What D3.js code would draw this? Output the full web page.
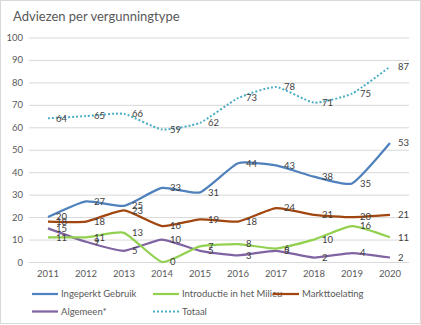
<!DOCTYPE html>
<html>
<head>
<meta charset="utf-8">
<script src="https://cdn.jsdelivr.net/npm/d3@7"></script>
<style>
  body { margin: 0; background: #fff; }
  svg { display: block; font-family: Lato, "Open Sans", sans-serif; }
  .axis path, .axis line { display: none; }
  .axis text { fill: #595959; font-size: 9.5px; font-family: Lato, sans-serif; }
  .gridline line { stroke: #d9d9d9; stroke-width: 1; }
  .gridline path { display: none; }
  .value-label { fill: #404040; font-size: 9.5px; }
  .legend-label { fill: #595959; font-size: 9.5px; }
</style>
</head>
<body>
<div id="chart"></div>
<script>
// data
const years = ['2011', '2012', '2013', '2014', '2015', '2016', '2017', '2018', '2019', '2020'];
const ingeperktGebruik = [20, 27, 25, 33, 31, 44, 43, 38, 35, 53];
const introductieMilieu = [11, 11, 13, 0, 7, 8, 6, 10, 16, 11];
const markttoelating = [18, 18, 23, 16, 19, 18, 24, 21, 20, 21];
const algemeen = [15, 9, 5, 10, 5, 3, 5, 2, 4, 2];
const totaal = [64, 65, 66, 59, 62, 73, 78, 71, 75, 87];
const yTicks = [0, 10, 20, 30, 40, 50, 60, 70, 80, 90, 100];

const series = [
    { name: 'Totaal', values: totaal, color: '#4bacc6', dotted: true },
    { name: 'Algemeen*', values: algemeen, color: '#8064a2' },
    { name: 'Markttoelating', values: markttoelating, color: '#a0460e' },
    { name: 'Introductie in het Milieu', values: introductieMilieu, color: '#92d050' },
    { name: 'Ingeperkt Gebruik', values: ingeperktGebruik, color: '#4f81bd' }
];

const width = 421, height = 325;
const margin = { top: 37.5, right: 12, bottom: 63, left: 29 };
const chartWidth = 409 - margin.left;
const chartHeight = height - margin.top - margin.bottom;

const svg = d3.select('#chart')
    .append('svg')
    .attr('width', width)
    .attr('height', height);

svg.append('rect')
    .attr('x', 0.5).attr('y', 0.5)
    .attr('width', width - 1).attr('height', height - 2)
    .attr('fill', '#fff')
    .attr('stroke', '#d9d9d9');

svg.append('text')
    .attr('x', 13)
    .attr('y', 21)
    .style('font-size', '13px')
    .style('fill', '#595959')
    .text('Adviezen per vergunningtype');

const chart = svg.append('g')
    .attr('transform', `translate(${margin.left},${margin.top})`);

const xScale = d3.scaleBand()
    .domain(years)
    .range([0, chartWidth]);
const yScale = d3.scaleLinear()
    .domain([0, 100])
    .range([chartHeight, 0]);

const yGridlines = d3.axisLeft()
    .scale(yScale)
    .tickValues(yTicks)
    .tickSize(-chartWidth)
    .tickFormat('');

chart.append('g')
    .classed('gridline', true)
    .call(yGridlines);

chart.append('g')
    .classed('y axis', true)
    .call(d3.axisLeft(yScale).tickValues(yTicks).tickSize(0).tickPadding(6));

chart.append('g')
    .classed('x axis', true)
    .attr('transform', `translate(0,${chartHeight})`)
    .call(d3.axisBottom(xScale).tickSize(0).tickPadding(8));

const cx = (d, i) => xScale(years[i]) + xScale.bandwidth() / 2;

// smoothed lines, kept close to the points
const line = d3.line()
    .x(cx)
    .y(d => yScale(d))
    .curve(d3.curveCardinal.tension(0.5));

series.forEach(s => {
    chart.append('path')
        .datum(s.values)
        .attr('fill', 'none')
        .attr('stroke', s.color)
        .attr('stroke-width', s.dotted ? 2 : 2.25)
        .attr('stroke-dasharray', s.dotted ? '2,2' : null)
        .attr('stroke-linejoin', 'round')
        .attr('d', line);
});

series.forEach(s => {
    chart.selectAll(null)
        .data(s.values)
        .enter()
        .append('text')
        .classed('value-label', true)
        .attr('x', (d, i) => cx(d, i) + 8)
        .attr('y', d => yScale(d))
        .attr('dy', '0.35em')
        .text(d => d);
});

// legend
const legendItems = [
    { name: 'Ingeperkt Gebruik', color: '#4f81bd', x: 32, y: 294 },
    { name: 'Introductie in het Milieu', color: '#92d050', x: 153, y: 294 },
    { name: 'Markttoelating', color: '#a0460e', x: 273, y: 294 },
    { name: 'Algemeen*', color: '#8064a2', x: 32, y: 311.5 },
    { name: 'Totaal', color: '#4bacc6', x: 153, y: 311.5, dotted: true }
];

const legend = svg.append('g').classed('legend', true);
legendItems.forEach(item => {
    legend.append('line')
        .attr('x1', item.x).attr('x2', item.x + 26)
        .attr('y1', item.y).attr('y2', item.y)
        .attr('stroke', item.color)
        .attr('stroke-width', item.dotted ? 2 : 2.25)
        .attr('stroke-dasharray', item.dotted ? '2,2' : null);
    legend.append('text')
        .classed('legend-label', true)
        .attr('x', item.x + 29)
        .attr('y', item.y)
        .attr('dy', '0.35em')
        .text(item.name);
});
</script>
</body>
</html>
